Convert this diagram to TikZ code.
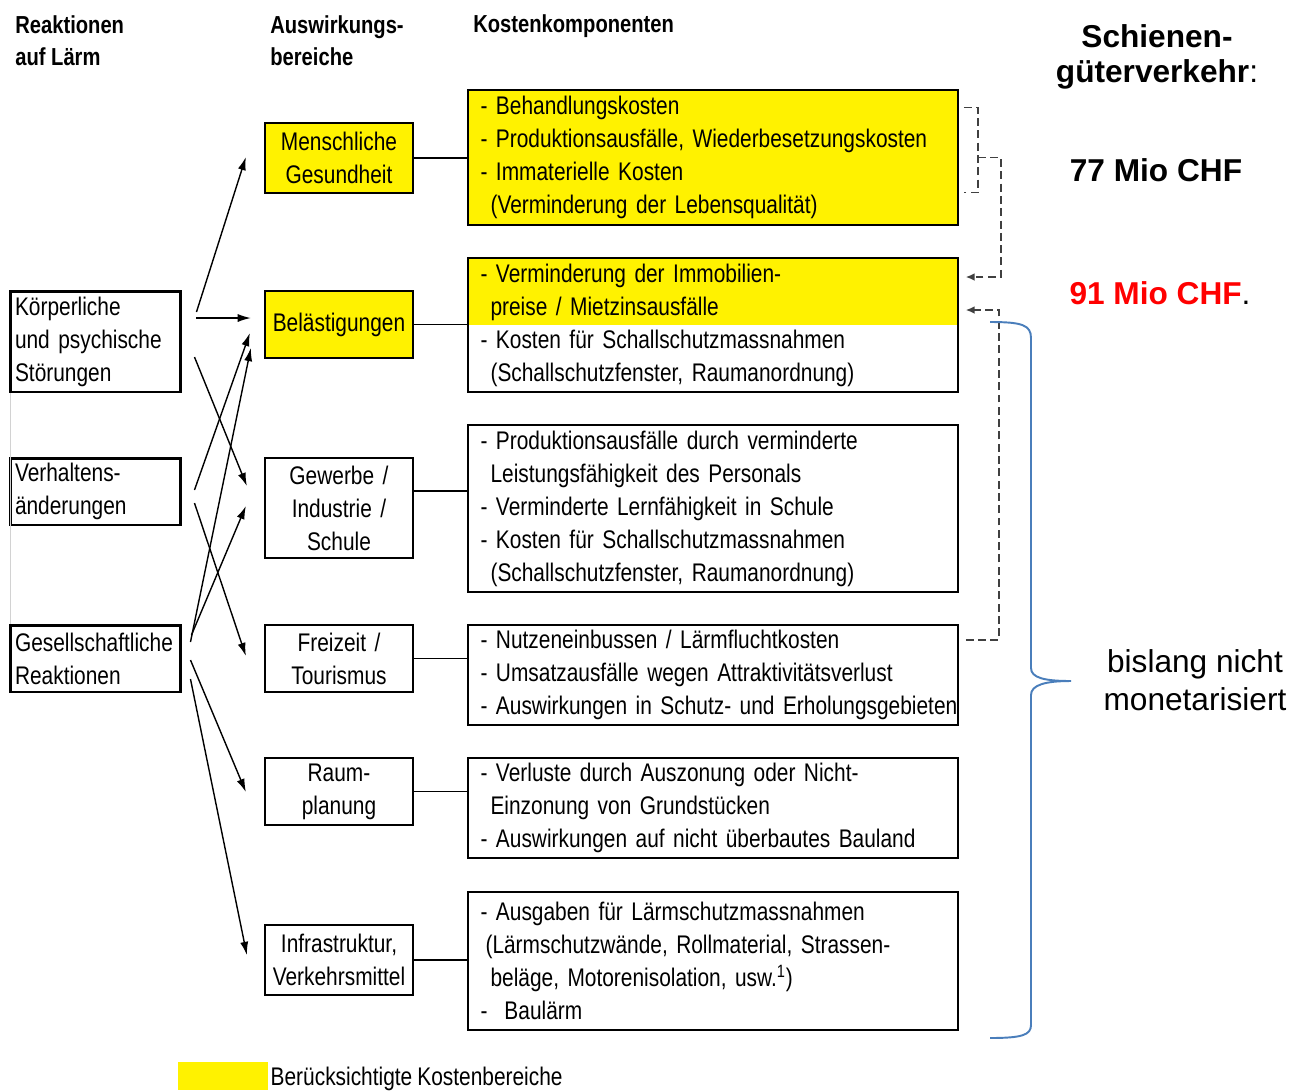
\documentclass[tikz,border=0pt]{standalone}
\usepackage{fontspec}
\setmainfont{Liberation Sans}
\newfontfamily\narrowfont[FakeStretch=0.82]{Liberation Sans}
\definecolor{braceblue}{RGB}{74,126,187}
\usetikzlibrary{arrows.meta,positioning,calc,backgrounds}
\newcommand{\einr}{\hspace*{0.2cm}}
\newcommand{\engspace}{\spaceskip=2.9pt plus 1pt minus 0.5pt\relax}

\begin{document}
\begin{tikzpicture}[x=0.02cm, y=-0.02cm,
    txt/.style={font=\narrowfont\fontsize{14.5pt}{18.8pt}\selectfont\engspace},
    reakt/.style={txt, draw, line width=1.7pt, text width=3.22cm, inner xsep=0.1cm,
                  inner ysep=0pt, minimum height=1.34cm, align=left},
    bereich/.style={txt, draw, line width=1.3pt, text width=2.96cm, inner xsep=0pt,
                    inner ysep=0pt, minimum height=1.34cm, align=center},
    kosten/.style={txt, draw, line width=1pt, text width=9.3cm, inner xsep=0.25cm,
                   inner ysep=0pt, align=left},
    kopf/.style={font=\narrowfont\bfseries\fontsize{14pt}{18.2pt}\selectfont,
                 align=left, anchor=west, inner sep=0pt},
    gross/.style={font=\fontsize{18pt}{20pt}\selectfont, align=center, inner sep=0pt},
    arrow/.style={-{Latex[length=7.5pt,width=4.6pt]}, line width=0.8pt},
    link/.style={line width=0.8pt},
    dashline/.style={dash pattern=on 4.5pt off 2.5pt, line width=0.8pt, black!75},
    dasharrow/.style={dashline, -{Latex[length=5pt,width=4.4pt]}}]

\useasboundingbox (0,0) rectangle (1303,1090);

\node[kopf] (hreakt) at (15,41) {Reaktionen\\auf Lärm};
\node[kopf] (hausw) at (270,41) {Auswirkungs-\\bereiche};
\node[kopf] (hkost) at (473,26) {Kostenkomponenten};

\node[reakt, minimum height=2.02cm] (koerper) at (95.5,341.5) {Körperliche\\und psychische\\Störungen};
\node[reakt] (verhalten) at (95.5,491.5) {Verhaltens-\\änderungen};
\node[reakt] (gesell) at (95.5,658.5) {Gesellschaftliche\\Reaktionen};
\draw[gray!35] ($(koerper.south west)+(2,0)$) -- ($(gesell.north west)+(2,0)$);

\node[bereich, fill=yellow, minimum height=1.4cm] (mensch) at (339,158) {Menschliche\\Gesundheit};
\node[bereich, fill=yellow] (belaest) at (339,324.5) {Belästigungen};
\node[bereich, minimum height=2cm] (gewerbe) at (339,508) {Gewerbe /\\Industrie /\\Schule};
\node[bereich] (freizeit) at (339,658.5) {Freizeit /\\Tourismus};
\node[bereich] (raum) at (339,791.5) {Raum-\\planung};
\node[bereich, minimum height=1.4cm] (infra) at (339,960) {Infrastruktur,\\Verkehrsmittel};

\node[kosten, fill=yellow, minimum height=2.7cm] (k1) at (713,157.5)
  {- Behandlungskosten\\- Produktionsausfälle, Wiederbesetzungskosten\\- Immaterielle Kosten\\\einr(Verminderung der Lebensqualität)};
\node[kosten, minimum height=2.68cm] (k2) at (713,325)
  {- Verminderung der Immobilien-\\\einr preise / Mietzinsausfälle\\- Kosten für Schallschutzmassnahmen\\\einr(Schallschutzfenster, Raumanordnung)};
\node[kosten, minimum height=3.34cm] (k3) at (713,508.5)
  {- Produktionsausfälle durch verminderte\\\einr Leistungsfähigkeit des Personals\\- Verminderte Lernfähigkeit in Schule\\- Kosten für Schallschutzmassnahmen\\\einr(Schallschutzfenster, Raumanordnung)};
\node[kosten, minimum height=2cm] (k4) at (713,675)
  {- Nutzeneinbussen / Lärmfluchtkosten\\- Umsatzausfälle wegen Attraktivitätsverlust\\\mbox{- Auswirkungen in Schutz- und Erholungsgebieten}};
\node[kosten, minimum height=2cm] (k5) at (713,808)
  {- Verluste durch Auszonung oder Nicht-\\\einr Einzonung von Grundstücken\\- Auswirkungen auf nicht überbautes Bauland};
\node[kosten, minimum height=2.76cm] (k6) at (713,961)
  {- Ausgaben für Lärmschutzmassnahmen\\\hspace*{0.1cm}(Lärmschutzwände, Rollmaterial, Strassen-\\\einr beläge, Motorenisolation, usw.\textsuperscript{1})\\-\ \ Baulärm};

\begin{scope}[on background layer]
\fill[yellow] (k2.north west) rectangle ($(k2.north east)+(0,68)$);
\end{scope}

\draw[arrow] ($(koerper.east)+(14,-29.5)$) -- ($(mensch.west)+(-18,-1)$);
\draw[arrow] ($(koerper.east)+(14,-23.5)$) -- ($(belaest.west)+(-13,-6.5)$);
\draw[arrow] ($(koerper.east)+(12,15.5)$) -- ($(gewerbe.west)+(-17,-22)$);
\draw[arrow] ($(verhalten.east)+(12,-1.5)$) -- ($(belaest.west)+(-14,8.5)$);
\draw[arrow] ($(verhalten.east)+(12,11.5)$) -- ($(freizeit.west)+(-18,-2.5)$);
\draw[arrow] ($(gesell.east)+(8,-16.5)$) -- ($(belaest.west)+(-13,23.5)$);
\draw[arrow] ($(gesell.east)+(9,-23.5)$) -- ($(gewerbe.west)+(-18,-2)$);
\draw[arrow] ($(gesell.east)+(8,1.5)$) -- ($(raum.west)+(-18,0.5)$);
\draw[arrow] ($(gesell.east)+(8,20.5)$) -- ($(infra.west)+(-17,-5)$);

\draw[link] (mensch.east) -- (mensch.east -| k1.west);
\draw[link] (belaest.east) -- (belaest.east -| k2.west);
\draw[link] ($(gewerbe.east)+(0,-17)$) coordinate (gw) -- (gw -| k3.west);
\draw[link] (freizeit.east) -- (freizeit.east -| k4.west);
\draw[link] (raum.east) -- (raum.east -| k5.west);
\draw[link] (infra.east) -- (infra.east -| k6.west);

\draw[dashline] ($(k1.east)+(5,-50)$) -| ($(k1.east)+(19,0)$) |- ($(k1.east)+(5,35)$);
\draw[dasharrow] ($(k1.east)+(19,0)$) -| ($(k2.east)+(42,-48)$) -- ($(k2.east)+(7,-48)$);
\draw[dasharrow] ($(k4.east)+(7,-35)$) -| ($(k2.east)+(40,-15)$) -- ($(k2.east)+(7,-15)$);

\draw[braceblue, line width=1.1pt] (990,322) .. controls (1022,322) and (1031,325) .. (1031,338)
  -- (1031,668) .. controls (1031,678) and (1045,681) .. (1071,681)
  .. controls (1045,681) and (1031,685) .. (1031,695)
  -- (1031,1025) .. controls (1031,1035) and (1022,1038) .. (990,1038);

\node[gross] (schiene) at (1157,57) {\textbf{Schienen-}\\\textbf{güterverkehr}:};
\node[gross] (mio77) at (1156,170) {\textbf{77 Mio CHF}};
\node[gross] (mio91) at (1160,293) {\textbf{\color{red}91 Mio CHF}.};
\node[gross] (nichtmon) at (1195,680) {bislang nicht\\[1.5pt]monetarisiert};

\node[fill=yellow, minimum width=1.8cm, minimum height=0.56cm, inner sep=0pt] (legbox) at (223,1076) {};
\node[txt, right=0.04cm of legbox, inner sep=0pt, yshift=-0.05cm] (legtext) {Berücksichtigte Kostenbereiche};
\end{tikzpicture}
\end{document}
